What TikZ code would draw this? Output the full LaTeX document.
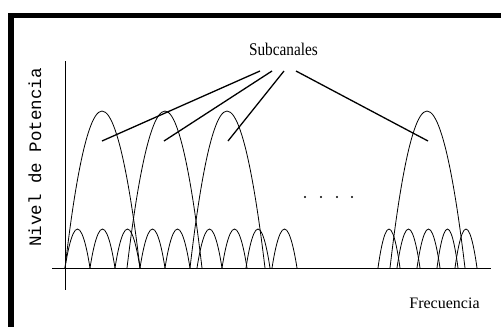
\documentclass[tikz,border=0pt]{standalone}
\usepackage{fontspec}
\setmainfont{Liberation Serif}
\newfontfamily\monofont{Liberation Mono}
\usepackage{tikz}

\begin{document}
\begin{tikzpicture}[x=1pt,y=-1pt,
	lobe/.style={draw=black,line width=0.8pt},
	pointer/.style={draw=black,line width=1.3pt}]
	
	\useasboundingbox (0,0) rectangle (501,327);
	\fill[black] (8,13) rectangle (501,18);
	\fill[black] (8,13) rectangle (14,327);
	
	\draw[line width=0.8pt] (65,61) -- (65,290);
	\draw[line width=0.8pt] (52,268) -- (491,268);
	
	\path[lobe] (65,268) parabola bend (102,111) (140,268);
	\path[lobe] (127,268) parabola bend (165,111) (202,268);
	\path[lobe] (190,268) parabola bend (227,111) (265,268);
	\path[lobe] (390,268) parabola bend (427,111) (465,268);
	
	\path[lobe] (65,268) parabola bend (77.5,229) (90,268);
	\path[lobe] (90,268) parabola bend (102.5,229) (115,268);
	\path[lobe] (115,268) parabola bend (127.5,229) (140,268);
	\path[lobe] (140,268) parabola bend (152.5,229) (165,268);
	\path[lobe] (165,268) parabola bend (177.5,229) (190,268);
	\path[lobe] (197,268) parabola bend (209.5,229) (222,268);
	\path[lobe] (222,268) parabola bend (234.5,229) (247,268);
	\path[lobe] (246,268) parabola bend (258,229) (270,268);
	\path[lobe] (272,268) parabola bend (284.5,229) (297,268);
	
	\path[lobe] (378,268) parabola bend (389,229) (400,268);
	\path[lobe] (397,268) parabola bend (408.5,229) (420,268);
	\path[lobe] (417,268) parabola bend (428.5,229) (440,268);
	\path[lobe] (437,268) parabola bend (447.5,229) (458,268);
	\path[lobe] (455,268) parabola bend (466,229) (477,268);
	
	\fill (305,197) circle (1.2);
	\fill (321,197) circle (1.2);
	\fill (337,197) circle (1.2);
	\fill (352,197) circle (1.2);
	
	\node (sub) at (283.5,49) {\fontsize{17}{19}\selectfont\scalebox{0.9}[1.05]{Subcanales}};
	\node (freq) at (444.5,303) {\fontsize{16}{18}\selectfont Frecuencia};
	\node[rotate=90] (nivel) at (35,157.5) {\monofont\fontsize{17.5}{19}\selectfont Nivel de Potencia};
	
	\coordinate (s1) at (260,71);
	\coordinate (s2) at (272,71);
	\coordinate (s3) at (284,71);
	\coordinate (s4) at (296,71);
	\coordinate (t1) at (102,141);
	\coordinate (t2) at (164,141);
	\coordinate (t3) at (228,141);
	\coordinate (t4) at (428,141);
	\path[pointer] (s1) edge (t1);
	\path[pointer] (s2) edge (t2);
	\path[pointer] (s3) edge (t3);
	\path[pointer] (s4) edge (t4);
	
\end{tikzpicture}
\end{document}
